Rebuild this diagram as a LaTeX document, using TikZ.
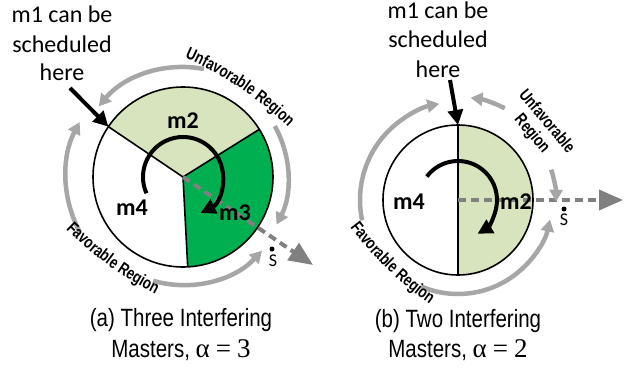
\documentclass[tikz,border=0pt]{standalone}
\usepackage{fontspec}
\usetikzlibrary{arrows.meta,calc,decorations.text}
\newfontfamily\calfont{Carlito}
\newfontfamily\narrowfont[FakeStretch=0.82]{Liberation Sans}
\newfontfamily\narrowerfont[FakeStretch=0.78]{Liberation Sans}
\newfontfamily\tmsfont{Liberation Serif}
\definecolor{lgreen}{HTML}{D7E4BD}
\definecolor{dgreen}{HTML}{00B050}
\definecolor{arcgray}{HTML}{A6A6A6}
\definecolor{dashgray}{HTML}{808080}
\newcommand\rgnfont{\narrowerfont\bfseries\fontsize{17}{19}\selectfont}
\newcommand\alphapart[1]{{\tmsfont\fontsize{27}{30}\selectfont α\hspace{6pt}=\hspace{6pt}#1}}
\begin{document}
\begin{tikzpicture}[x=1pt,y=1pt,
  pieline/.style={draw=black,line width=1.6pt},
  grayarc/.style={draw=arcgray,line width=4.5pt,-{Triangle[length=12pt,width=13pt]}},
  turnarrow/.style={draw=black,line width=4pt,-{Triangle[length=15pt,width=15pt]}},
  pointer/.style={draw=black,line width=4pt,-{Triangle[length=15pt,width=15pt]}},
  dasharrow/.style={draw=dashgray,line width=4pt,dash pattern=on 8pt off 5pt,-{Triangle[length=24pt,width=20pt]}},
  mlabel/.style={font=\calfont\bfseries\fontsize{24}{28}\selectfont,inner sep=0pt},
  hint/.style={font=\calfont\fontsize{24}{29}\selectfont,inner sep=0pt,anchor=base},
  capfont/.style={font=\narrowfont\fontsize{25}{28}\selectfont,inner sep=0pt,anchor=base},
  slabel/.style={font=\calfont\fontsize{18}{20}\selectfont,inner sep=0pt},
  rgntext/.style={decorate,decoration={text along path,text align=center,text={|\rgnfont|#1}}}
]
\useasboundingbox (0,0) rectangle (625,368);

% ---------- left diagram ----------
\coordinate (cL) at (183,191);
\coordinate (bL1) at ($(cL)+(146:90)$);
\coordinate (bL2) at ($(cL)+(32:90)$);
\coordinate (bL3) at ($(cL)+(-87:90)$);
\fill[lgreen] (cL) -- (bL2) arc[start angle=32,end angle=146,radius=90] -- cycle;
\fill[dgreen] (cL) -- (bL3) arc[start angle=-87,end angle=32,radius=90] -- cycle;
\draw[pieline] (cL) circle[radius=90];
\draw[pieline] (bL1) -- (cL) -- (bL2) (cL) -- (bL3);

\coordinate (tipL) at (313,103);
\draw[dasharrow] (cL) -- (tipL);
\draw[turnarrow] ($(cL)+(204:40)$) arc[start angle=204,end angle=-64,radius=40];

\node[mlabel] (m2L) at (183,247) {m2};
\node[mlabel] (m3L) at (235,155) {m3};
\node[mlabel] (m4L) at (132,160) {m4};

\draw[grayarc] ($(cL)+(79:110)$) arc[start angle=79,end angle=140,radius=110];
\draw[grayarc] ($(cL)+(29:105)$) arc[start angle=29,end angle=-27,radius=105];
\draw[grayarc] ($(cL)+(208:117)$) arc[start angle=208,end angle=152,radius=117];
\draw[grayarc] ($(cL)+(254:108)$) arc[start angle=254,end angle=317,radius=108];

\path[rgntext={Unfavorable Region}] ($(44,-10)+(71:350)$) arc[start angle=71,end angle=41,radius=350];
\path[rgntext={Favorable Region}] ($(313.8,385.9)+(221:350)$) arc[start angle=221,end angle=247,radius=350];

\coordinate (pL) at (70,280);
\draw[pointer] (pL) -- (bL1);
\node[hint] (hL1) at (62,346) {m1 can be};
\node[hint] (hL2) at (62,316) {scheduled};
\node[hint] (hL3) at (62,288) {here};

\fill (272,119) circle[radius=2.5];
\node[slabel] (sL) at (273,107) {S};

\node[capfont] (capA1) at (181,42) {(a) Three Interfering};
\node[capfont] (capA2) at (181,11) {Masters, \alphapart{3}};

% ---------- right diagram ----------
\coordinate (cR) at (458,168);
\coordinate (tR) at ($(cR)+(90:75)$);
\coordinate (uR) at ($(cR)+(-90:75)$);
\fill[lgreen] (tR) arc[start angle=90,end angle=-90,radius=75] -- cycle;
\draw[pieline] (cR) circle[radius=75];
\draw[pieline] (tR) -- (uR);

\coordinate (tipR) at (623,168);
\draw[dasharrow] (cR) -- (tipR);
\draw[turnarrow] ($(cR)+(143:39)$) arc[start angle=143,end angle=-60,radius=39];

\node[mlabel] (m4R) at (409,166) {m4};
\node[mlabel] (m2R) at (516,166) {m2};

\draw[grayarc] ($(cR)+(63:103)$) arc[start angle=63,end angle=83,radius=103];
\draw[grayarc] ($(cR)+(18:98)$) arc[start angle=18,end angle=-1,radius=98];
\draw[grayarc] ($(cR)+(192:98)$) arc[start angle=192,end angle=101,radius=98];
\draw[grayarc] ($(cR)+(247:94)$) arc[start angle=247,end angle=348,radius=94];

\node[rotate=-50,align=center,font=\rgnfont,inner sep=0pt] (unfR) at (539,240) {Unfavorable\\Region};
\path[rgntext={Favorable Region}] ($(630,351)+(213:350)$) arc[start angle=213,end angle=239,radius=350];

\coordinate (pR) at (450,288);
\draw[pointer] (pR) -- (tR);
\node[hint] (hR1) at (438,350) {m1 can be};
\node[hint] (hR2) at (438,320) {scheduled};
\node[hint] (hR3) at (438,291) {here};

\fill (564,159) circle[radius=2.5];
\node[slabel] (sR) at (564,148) {S};

\node[capfont] (capB1) at (458,41) {(b) Two Interfering};
\node[capfont] (capB2) at (458,11) {Masters, \alphapart{2}};
\end{tikzpicture}
\end{document}
